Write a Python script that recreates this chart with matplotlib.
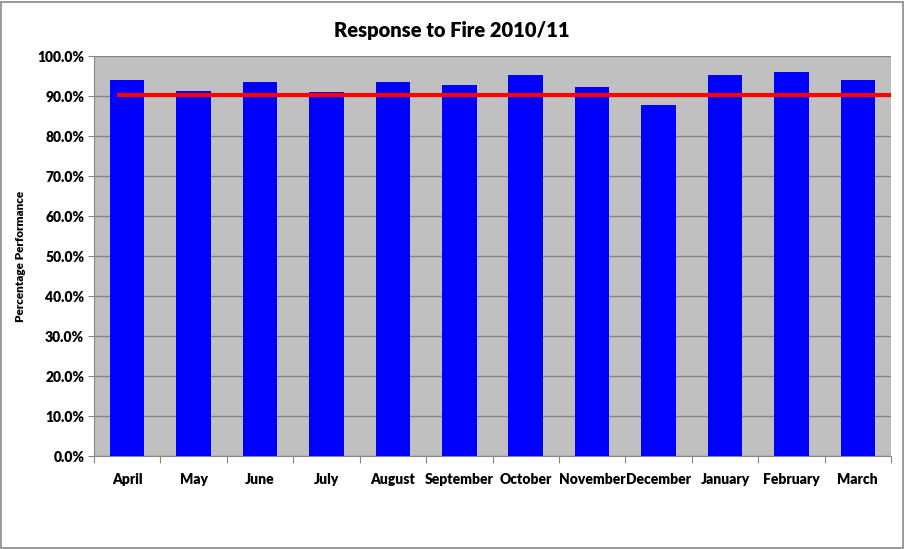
import matplotlib.pyplot as plt
from matplotlib.patches import Rectangle
from matplotlib.ticker import FuncFormatter, MultipleLocator

months = ["April", "May", "June", "July", "August", "September", "October",
          "November", "December", "January", "February", "March"]
performance = [94.0, 91.25, 93.5, 91.0, 93.5, 92.75, 95.25, 92.25, 87.75, 95.25, 96.0, 94.0]
target = 90.25

plt.rcParams['font.family'] = ['Lato', 'DejaVu Sans']
plt.rcParams['font.weight'] = 'heavy'

fig = plt.figure(figsize=(9.05, 5.49), dpi=100)
ax = fig.add_axes([94 / 905, 1 - 456 / 549, (891 - 94) / 905, 400 / 549])

x = range(len(months))
ax.bar(x, performance, width=0.52, color="#0000ff", zorder=3)
# target line runs a bit past the first bar to the right edge
ax.axhline(target, xmin=0.031, xmax=1.0, color="#ff0000", lw=3, zorder=4)

ax.set_facecolor("#c0c0c0")
ax.set_xlim(-0.5, len(months) - 0.5)
ax.set_ylim(0, 100)
ax.yaxis.set_major_locator(MultipleLocator(10))
ax.yaxis.set_major_formatter(FuncFormatter(lambda v, p: f"{v:.1f}%"))
ax.grid(axis="y", color="#868686", lw=1, zorder=1)

ax.set_xticks([i - 0.5 for i in x] + [len(months) - 0.5])
ax.set_xticklabels([])
ax.set_xticks(list(x), minor=True)
ax.set_xticklabels(months, minor=True, fontsize=10, fontweight="heavy")
ax.tick_params(axis="x", which="minor", length=0, pad=12)
ax.tick_params(axis="x", which="major", length=5, color="#868686")
ax.tick_params(axis="y", length=4, color="#868686", labelsize=10, pad=3)
for lbl in ax.get_yticklabels():
    lbl.set_fontweight("heavy")

for side in ["top", "right"]:
    ax.spines[side].set_visible(False)
ax.spines["left"].set_color("#868686")
ax.spines["bottom"].set_color("#868686")

ax.set_ylabel("Percentage Performance", fontsize=8.5, fontweight="heavy", labelpad=8)
fig.text(452 / 905, 1 - 30 / 549, "Response to Fire 2010/11", ha="center", va="center",
         fontsize=14.5, fontweight="heavy")

fig.patches.append(Rectangle((1 / 905, 1 / 549), 902 / 905, 546 / 549, transform=fig.transFigure,
                             fill=False, edgecolor="#868686", lw=1.2))

fig.savefig("out.png", dpi=100)
